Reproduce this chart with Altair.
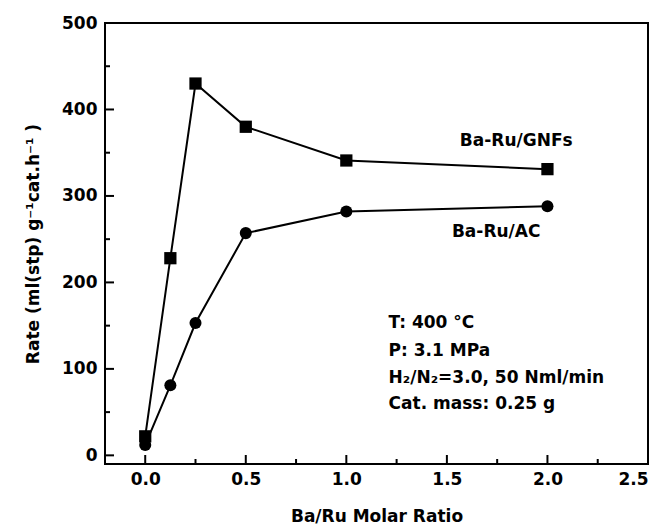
import altair as alt
import pandas as pd

ratio = [0.0, 0.125, 0.25, 0.5, 1.0, 2.0]
gnfs = [22, 228, 430, 380, 341, 331]
ac = [12, 81, 153, 257, 282, 288]

x_major = [0.0, 0.5, 1.0, 1.5, 2.0]
x_minor = [0.25, 0.75, 1.25, 1.75, 2.25]
y_major = [0, 100, 200, 300, 400]
y_minor = [50, 150, 250, 350, 450]

label_text = ["Ba-Ru/GNFs", "Ba-Ru/AC"]
label_x = [1.845, 1.745]
label_y = [364, 258]

cond_text = ["T: 400 °C", "P: 3.1 MPa", "H₂/N₂=3.0, 50 Nml/min", "Cat. mass: 0.25 g"]
cond_x = [1.21, 1.21, 1.21, 1.21]
cond_y = [153, 121, 90, 59]

W, H = 543, 441
FONT = "DejaVu Sans"

df = pd.DataFrame({"x": ratio * 2, "y": gnfs + ac,
                   "s": ["GNFs"] * len(ratio) + ["AC"] * len(ratio)})

xs = alt.Scale(domain=[-0.2, 2.5], nice=False, zero=False)
ys = alt.Scale(domain=[-10, 500], nice=False, zero=False)

xax = alt.Axis(values=[0.0, 0.5, 1.0, 1.5, 2.0, 2.5], format=".1f", ticks=False, domain=False,
               grid=False, labelFont=FONT, labelFontSize=17, labelFontWeight="bold",
               labelColor="black", labelPadding=7, title="Ba/Ru Molar Ratio",
               titleFont=FONT, titleFontSize=17, titleFontWeight="bold", titleColor="black",
               titlePadding=21)
yax = alt.Axis(values=[0, 100, 200, 300, 400, 500], ticks=False, domain=False, grid=False,
               labelFont=FONT, labelFontSize=17, labelFontWeight="bold", labelColor="black",
               labelPadding=8, title="Rate (ml(stp) g⁻¹cat.h⁻¹ )", titleFont=FONT,
               titleFontSize=17, titleFontWeight="bold", titleColor="black", titlePadding=19)

base = alt.Chart(df)

lines = base.mark_line(color="black", strokeWidth=2).encode(
    x=alt.X("x:Q", scale=xs, axis=xax), y=alt.Y("y:Q", scale=ys, axis=yax), detail="s:N")

sq = base.transform_filter(alt.datum.s == "GNFs").mark_point(
    shape="square", filled=True, color="black", size=150, opacity=1).encode(
    x=alt.X("x:Q", scale=xs), y=alt.Y("y:Q", scale=ys))
ci = base.transform_filter(alt.datum.s == "AC").mark_point(
    shape="circle", filled=True, color="black", size=145, opacity=1).encode(
    x=alt.X("x:Q", scale=xs), y=alt.Y("y:Q", scale=ys))

def xticks(vals, ln):
    return alt.Chart(pd.DataFrame({"v": vals})).mark_rule(color="black", strokeWidth=2).encode(
        x=alt.X("v:Q", scale=xs), y=alt.value(H), y2=alt.value(H - ln))

def yticks(vals, ln):
    return alt.Chart(pd.DataFrame({"v": vals})).mark_rule(color="black", strokeWidth=2).encode(
        y=alt.Y("v:Q", scale=ys), x=alt.value(0), x2=alt.value(ln))

labels = alt.Chart(pd.DataFrame({"t": label_text, "x": label_x, "y": label_y})).mark_text(
    font=FONT, fontSize=17, fontWeight="bold", color="black", align="center", baseline="middle"
).encode(x=alt.X("x:Q", scale=xs), y=alt.Y("y:Q", scale=ys), text="t:N")

conds = alt.Chart(pd.DataFrame({"t": cond_text, "x": cond_x, "y": cond_y})).mark_text(
    font=FONT, fontSize=17, fontWeight="bold", color="black", align="left", baseline="middle"
).encode(x=alt.X("x:Q", scale=xs), y=alt.Y("y:Q", scale=ys), text="t:N")

chart = alt.layer(
    xticks(x_major, 9), xticks(x_minor, 5), yticks(y_major, 9), yticks(y_minor, 5),
    lines, sq, ci, labels, conds
).properties(
    width=W, height=H, autosize=alt.AutoSizeParams(type="none"),
    padding={"left": 97, "top": 15, "right": 8, "bottom": 60},
    background="white"
).configure_view(stroke="black", strokeWidth=2)

chart.save("out.html", embed_options={"renderer": "svg", "actions": False})
